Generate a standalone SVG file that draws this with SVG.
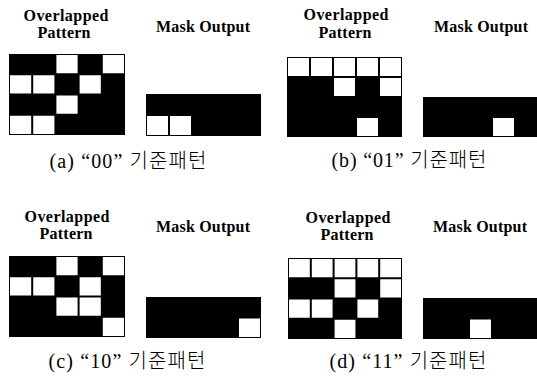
<svg xmlns="http://www.w3.org/2000/svg" width="537" height="381" viewBox="0 0 537 381">
<style>
.bg{fill:#fff}
.blk{fill:#000}
.w{fill:#fff}
.hd{font-family:"Liberation Serif","Times New Roman",serif;font-weight:bold;font-size:16px;fill:#000;text-anchor:middle}
.cap{font-family:"Liberation Serif","Noto Sans CJK KR",serif;font-size:20px;fill:#000;text-anchor:middle}
.ko{font-family:"Noto Sans CJK KR",sans-serif;font-weight:300;font-size:20px}
</style>
<rect class="bg" x="0" y="0" width="537" height="381"/>

<g id="panel-a">
  <text class="hd" x="66" y="21" textLength="85">Overlapped</text>
  <text class="hd" x="64" y="38" textLength="53">Pattern</text>
  <text class="hd" x="203" y="32" textLength="94">Mask Output</text>
  <g id="grid-a">
    <rect class="blk" x="9" y="54" width="116" height="81"/>
    <rect class="w" x="56.4" y="55" width="21.2" height="18.25"/>
    <rect class="w" x="102.8" y="55" width="21.2" height="18.25"/>
    <rect class="w" x="10" y="75.25" width="21.2" height="18.25"/>
    <rect class="w" x="33.2" y="75.25" width="21.2" height="18.25"/>
    <rect class="w" x="79.6" y="75.25" width="21.2" height="18.25"/>
    <rect class="w" x="56.4" y="95.5" width="21.2" height="18.25"/>
    <rect class="w" x="10" y="115.75" width="21.2" height="18.25"/>
    <rect class="w" x="33.2" y="115.75" width="21.2" height="18.25"/>
  </g>
  <g id="mask-a">
    <rect class="blk" x="146" y="94" width="115" height="42"/>
    <rect class="w" x="147" y="116" width="21" height="19"/>
    <rect class="w" x="170" y="116" width="21" height="19"/>
  </g>
  <text class="cap" x="128" y="168" textLength="157">(a) “00” <tspan class="ko">기준패턴</tspan></text>
</g>

<g id="panel-b">
  <text class="hd" x="346" y="20" textLength="85">Overlapped</text>
  <text class="hd" x="345" y="38" textLength="53">Pattern</text>
  <text class="hd" x="481" y="32" textLength="94">Mask Output</text>
  <g id="grid-b">
    <rect class="blk" x="287" y="57" width="115" height="80"/>
    <rect class="w" x="288" y="58" width="21" height="18"/>
    <rect class="w" x="311" y="58" width="21" height="18"/>
    <rect class="w" x="334" y="58" width="21" height="18"/>
    <rect class="w" x="357" y="58" width="21" height="18"/>
    <rect class="w" x="380" y="58" width="21" height="18"/>
    <rect class="w" x="334" y="78" width="21" height="18"/>
    <rect class="w" x="380" y="78" width="21" height="18"/>
    <rect class="w" x="357" y="118" width="21" height="18"/>
  </g>
  <g id="mask-b">
    <rect class="blk" x="423" y="97" width="115" height="40"/>
    <rect class="w" x="493" y="118" width="21" height="18"/>
  </g>
  <text class="cap" x="409" y="167" textLength="155">(b) “01” <tspan class="ko">기준패턴</tspan></text>
</g>

<g id="panel-c">
  <text class="hd" x="67" y="222" textLength="85">Overlapped</text>
  <text class="hd" x="66" y="239" textLength="53">Pattern</text>
  <text class="hd" x="203" y="232" textLength="94">Mask Output</text>
  <g id="grid-c">
    <rect class="blk" x="9" y="256" width="116" height="81"/>
    <rect class="w" x="56.4" y="257" width="21.2" height="18.25"/>
    <rect class="w" x="102.8" y="257" width="21.2" height="18.25"/>
    <rect class="w" x="10" y="277.25" width="21.2" height="18.25"/>
    <rect class="w" x="33.2" y="277.25" width="21.2" height="18.25"/>
    <rect class="w" x="79.6" y="277.25" width="21.2" height="18.25"/>
    <rect class="w" x="56.4" y="297.5" width="21.2" height="18.25"/>
    <rect class="w" x="79.6" y="297.5" width="21.2" height="18.25"/>
    <rect class="w" x="102.8" y="317.75" width="21.2" height="18.25"/>
  </g>
  <g id="mask-c">
    <rect class="blk" x="146" y="297" width="115" height="41"/>
    <rect class="w" x="239" y="318.5" width="21" height="18.5"/>
  </g>
  <text class="cap" x="127" y="368" textLength="157">(c) “10” <tspan class="ko">기준패턴</tspan></text>
</g>

<g id="panel-d">
  <text class="hd" x="348" y="223" textLength="85">Overlapped</text>
  <text class="hd" x="347" y="240" textLength="53">Pattern</text>
  <text class="hd" x="480" y="232" textLength="94">Mask Output</text>
  <g id="grid-d">
    <rect class="blk" x="288" y="258" width="114" height="81"/>
    <rect class="w" x="289" y="259" width="20.8" height="18.25"/>
    <rect class="w" x="311.8" y="259" width="20.8" height="18.25"/>
    <rect class="w" x="334.6" y="259" width="20.8" height="18.25"/>
    <rect class="w" x="357.4" y="259" width="20.8" height="18.25"/>
    <rect class="w" x="380.2" y="259" width="20.8" height="18.25"/>
    <rect class="w" x="334.6" y="279.25" width="20.8" height="18.25"/>
    <rect class="w" x="380.2" y="279.25" width="20.8" height="18.25"/>
    <rect class="w" x="289" y="299.5" width="20.8" height="18.25"/>
    <rect class="w" x="311.8" y="299.5" width="20.8" height="18.25"/>
    <rect class="w" x="357.4" y="299.5" width="20.8" height="18.25"/>
    <rect class="w" x="334.6" y="319.75" width="20.8" height="18.25"/>
  </g>
  <g id="mask-d">
    <rect class="blk" x="423" y="298" width="115" height="41"/>
    <rect class="w" x="470" y="319.5" width="21" height="18.5"/>
  </g>
  <text class="cap" x="408" y="368" textLength="157">(d) “11” <tspan class="ko">기준패턴</tspan></text>
</g>
</svg>
